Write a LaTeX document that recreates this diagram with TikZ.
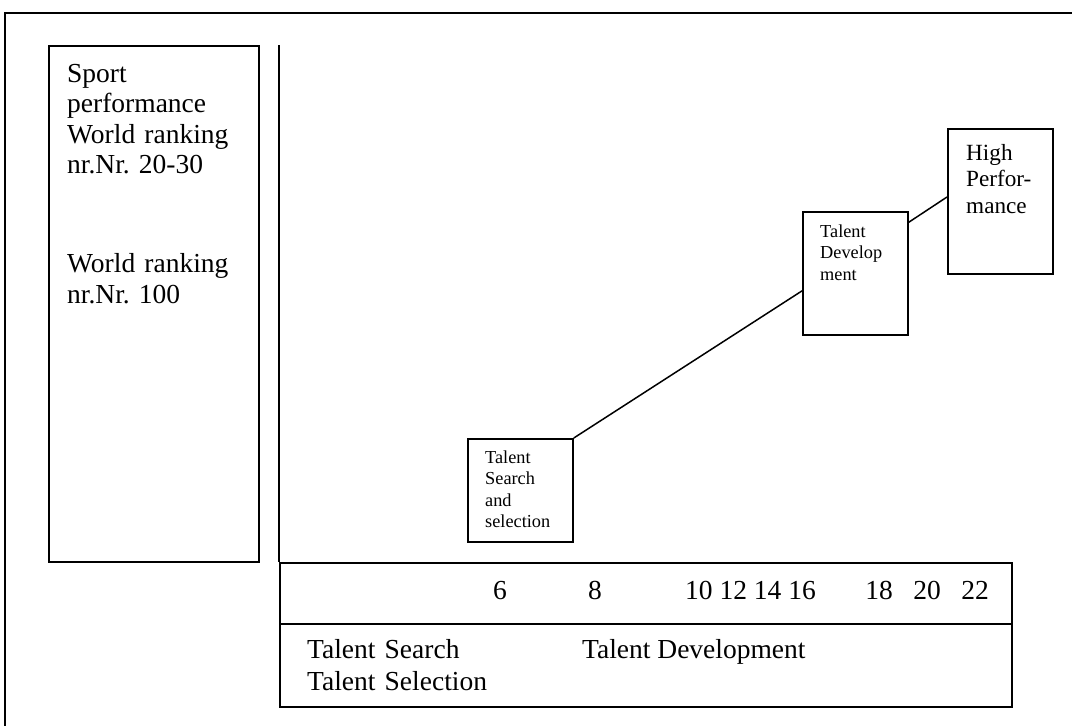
\documentclass[tikz,border=0pt]{standalone}
\usepackage{fontspec}
\setmainfont{Liberation Serif}
\usetikzlibrary{calc}
\frenchspacing
\tikzset{
  frame/.style={line width=1.4pt},
  box/.style={draw, line width=1.8pt, rectangle, anchor=north west, inner sep=0pt},
  txt/.style={anchor=base west, inner sep=0pt, align=left},
  big/.style={font=\fontsize{27.5}{30.5}\selectfont},
  small/.style={font=\fontsize{18.3}{21.6}\selectfont},
  mid/.style={font=\fontsize{23.2}{26.5}\selectfont},
  link/.style={line width=1.5pt},
}
\begin{document}
\begin{tikzpicture}[x=1pt,y=-1pt]
\useasboundingbox (0,0) rectangle (1072,726);
% outer frame (open at right and bottom)
\draw[frame] (5,726) -- (5,13) -- (1072,13);
% left box
\node[box, minimum width=210pt, minimum height=516pt] (leftbox) at (48,45) {};
\node[txt, big, text width=190pt] (lefttext) at (67,82)
  {Sport\\performance\\World ranking\\nr.Nr. 20-30\\[68.5pt]World ranking\\nr.Nr. 100};
% table
\node[box, minimum width=732pt, minimum height=61pt] (row1) at (279,562) {};
\node[box, minimum width=732pt, minimum height=83pt] (row2) at (279,623) {};
\node[txt, big] (ages) at (493,599)
  {6\hspace{81.25pt}8\hspace{83.25pt}10 12 14 16\hspace{49.6pt}18\hspace{20.5pt}20\hspace{20.5pt}22};
\node[txt, big, text width=250pt, font=\fontsize{27.5}{32}\selectfont] (searchsel) at (307,658)
  {Talent Search\\Talent Selection};
\node[txt, big] (devtext) at (582,658) {Talent Development};
% axis
\coordinate (axtop) at (279,45);
\draw[line width=1.8pt] (axtop) -- (row1.north west);
% stage boxes
\node[box, minimum width=105pt, minimum height=103pt] (tss) at (467,438) {};
\node[txt, small, text width=90pt] (tsstext) at (485,463) {Talent\\Search\\and\\selection};
\node[box, minimum width=105pt, minimum height=123pt] (td) at (802,211) {};
\node[txt, small, text width=90pt] (tdtext) at (820,237) {Talent\\Develop\\ment};
\node[box, minimum width=105pt, minimum height=145pt] (hp) at (947,128) {};
\node[txt, mid, text width=85pt] (hptext) at (966,160) {High\\Perfor-\\mance};
% connectors
\draw[link] (tss.north east) -- ($(td.north west)!0.64!(td.south west)$);
\draw[link] ($(td.north east)!0.09!(td.south east)$) -- ($(hp.north west)!0.47!(hp.south west)$);
\end{tikzpicture}
\end{document}
